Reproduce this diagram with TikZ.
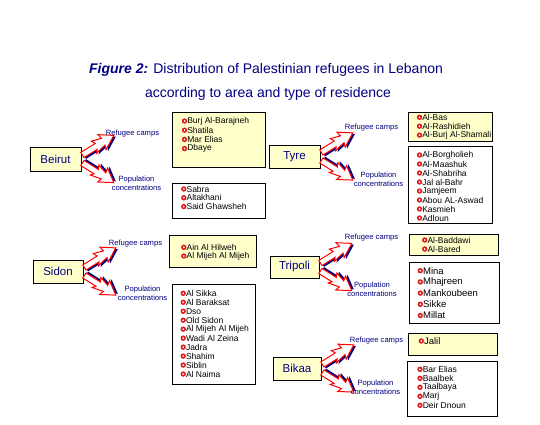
\documentclass[tikz,border=0pt]{standalone}
\usepackage{fontspec}
\setmainfont{Liberation Sans}
\usetikzlibrary{calc}
\definecolor{navy}{RGB}{0,0,128}
\definecolor{paleyel}{RGB}{255,255,204}
\definecolor{bulred}{RGB}{225,25,25}
\tikzset{
  titletext/.style={text=navy, inner sep=0pt, font=\fontsize{14}{16}\selectfont},
  areabox/.style={draw=black, line width=0.8pt, fill=paleyel, text=navy, inner sep=0pt,
    font=\fontsize{11.5}{13}\selectfont, minimum width=#1},
  campbox/.style={draw=black, line width=0.8pt, fill=paleyel, anchor=north west, inner sep=0pt},
  popbox/.style={draw=black, line width=0.8pt, fill=white, anchor=north west, inner sep=0pt},
  lab/.style={text=navy, inner sep=0pt, align=center, font=\fontsize{7.6}{9}\selectfont},
  bul/.style={circle, fill=bulred, inner sep=0pt, minimum size=5.4pt,
    path picture={\fill[white] (path picture bounding box.center) circle (1pt);}},
  itemtext/.style={anchor=west, inner sep=0pt, text=black},
}
\newcommand\zshape{(0,-3) -- (17,-3) -- (15,-7) -- (25,-4) -- (24,-9) -- (37,0) -- (23,8) -- (24.5,3.5) -- (13,6) -- (15.5,3) -- (0,3) -- cycle}
\newcommand\zarrow[3]{%
  \begin{scope}[shift={#1}, rotate=#2]
    \fill[navy, shift={(1,#3*2.2)}] \zshape;
    \draw[red, line width=1pt, fill=white, line join=miter] \zshape;
  \end{scope}}
% #1 box, #2 x offset, #3 y offset, #4 step, #5 font size, #6 items
\newcommand\listitems[6]{%
  \foreach \itm [count=\k from 0] in {#6} {
    \node[bul] (#1-b\k) at ($(#1.north west)+(#2,#3+\k*#4)$) {};
    \node[itemtext, font=\fontsize{#5}{#5}\selectfont] (#1-t\k) at ($(#1-b\k.center)+(2.6,0)$) {\itm};
  }}
\begin{document}
\begin{tikzpicture}[x=1pt,y=-1pt]
\useasboundingbox[fill=white] (0,0) rectangle (540,425);
% title
\node[titletext] (t1) at (266,70) {\textbf{\textit{Figure 2:}} Distribution of Palestinian refugees in Lebanon};
\node[titletext] (t2) at (268,94) {according to area and type of residence};
% areas
\node[areabox=51pt, minimum height=24pt] (beirut) at (55.5,159) {Beirut};
\node[areabox=51pt, minimum height=23pt] (tyre) at (294.5,156.5) {Tyre};
\node[areabox=50pt, minimum height=23pt] (sidon) at (58,271.5) {Sidon};
\node[areabox=49pt, minimum height=22pt] (tripoli) at (294.5,267) {Tripoli};
\node[areabox=48pt, minimum height=23pt] (bikaa) at (297,368.5) {Bikaa};
% arrows
\foreach \a in {beirut,tyre,sidon,tripoli,bikaa}{
  \zarrow{($(\a.east)+(1,-4)$)}{32}{1}
  \zarrow{($(\a.east)+(1,4)$)}{-32}{-1}
}
% labels
\node[lab] (beirut-cl) at (132.5,134) {Refugee camps};
\node[lab] (beirut-pl) at (136.5,183.5) {Population\\concentrations};
\node[lab] (tyre-cl) at (371.5,128) {Refugee camps};
\node[lab] (tyre-pl) at (378.5,179.5) {Population\\concentrations};
\node[lab] (sidon-cl) at (135.5,244) {Refugee camps};
\node[lab] (sidon-pl) at (142.5,293.5) {Population\\concentrations};
\node[lab] (tripoli-cl) at (371.5,238) {Refugee camps};
\node[lab] (tripoli-pl) at (372,289.5) {Population\\concentrations};
\node[lab] (bikaa-cl) at (376.5,341) {Refugee camps};
\node[lab] (bikaa-pl) at (375.5,387.5) {Population\\concentrations};
% list boxes
\node[campbox, minimum width=93pt, minimum height=55pt] (bc) at (172,112) {};
\node[popbox, minimum width=93pt, minimum height=35pt] (bp) at (172,183) {};
\node[campbox, minimum width=84pt, minimum height=29pt] (tc) at (408,112) {};
\node[popbox, minimum width=84pt, minimum height=77pt] (tp) at (408,146) {};
\node[campbox, minimum width=87pt, minimum height=32pt] (sc) at (169,235) {};
\node[popbox, minimum width=83pt, minimum height=100pt] (sp) at (172,284) {};
\node[campbox, minimum width=89pt, minimum height=21pt] (trc) at (409,234) {};
\node[popbox, minimum width=90pt, minimum height=61pt] (trp) at (409,262) {};
\node[campbox, minimum width=89pt, minimum height=22pt] (kc) at (408,333) {};
\node[popbox, minimum width=90pt, minimum height=55pt] (kp) at (407,361) {};
% items
\listitems{bc}{12.5}{9}{9.2}{8.5}{Burj Al-Barajneh,Shatila,Mar Elias,Dbaye}
\listitems{bp}{11.8}{6}{8.8}{8.5}{Sabra,Altakhani,Said Ghawsheh}
\listitems{tc}{11.5}{5.3}{8.9}{8.5}{Al-Bas,Al-Rashidieh,Al-Burj Al-Shamali}
\listitems{tp}{11.5}{9}{9}{8.5}{Al-Borgholieh,Al-Maashuk,Al-Shabriha,Jal al-Bahr,Jamjeem,Abou AL-Aswad,Kasmieh,Adloun}
\listitems{sc}{14.8}{12.3}{8.7}{8.5}{Ain Al Hilweh,Al Mijeh Al Mijeh}
\listitems{sp}{11.2}{9.3}{8.97}{8.5}{Al Sikka,Al Baraksat,Dso,Old Sidon,Al Mijeh Al Mijeh,Wadi Al Zeina,Jadra,Shahim,Siblin,Al Naima}
\listitems{trc}{15.7}{6}{9}{8.5}{Al-Baddawi,Al-Bared}
\listitems{trp}{11.3}{8.7}{11.2}{9.5}{Mina,Mhajreen,Mankoubeen,Sikke,Millat}
\listitems{kc}{13.3}{8}{9}{9.5}{Jalil}
\listitems{kp}{13}{8.3}{9}{8.5}{Bar Elias,Baalbek,Taalbaya,Marj,Deir Dnoun}
\end{tikzpicture}
\end{document}
